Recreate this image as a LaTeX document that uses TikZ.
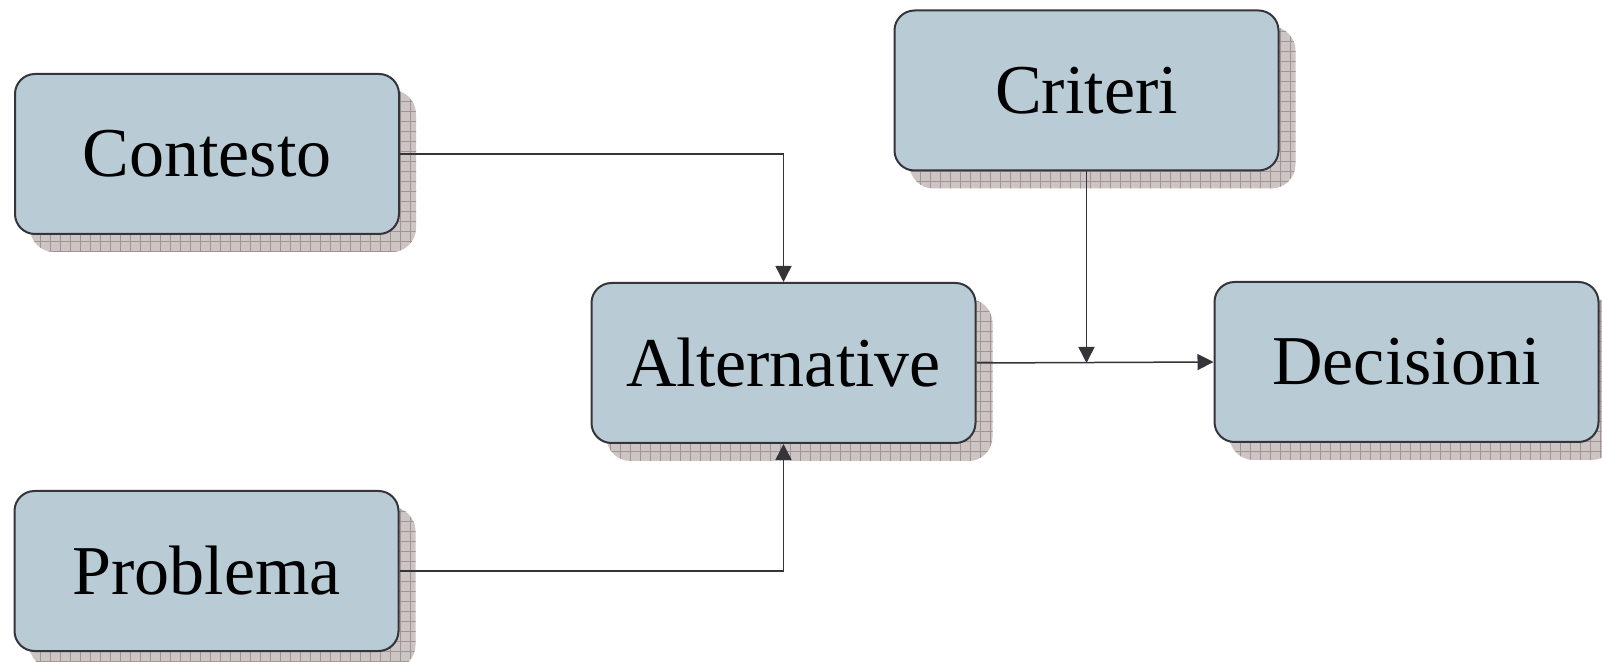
\documentclass[tikz,border=0pt]{standalone}
\usepackage{fontspec}
\setmainfont{Liberation Serif}
\usetikzlibrary{arrows.meta,patterns}
\definecolor{boxfill}{RGB}{185,203,213}
\definecolor{boxline}{RGB}{52,52,58}
\definecolor{shfill}{RGB}{205,196,196}
\definecolor{shgrid}{RGB}{160,148,148}
\pgfdeclarepatternformonly{biggrid}{\pgfqpoint{-1pt}{-1pt}}{\pgfqpoint{6pt}{6pt}}{\pgfqpoint{5pt}{5pt}}{%
  \pgfsetlinewidth{0.5pt}%
  \pgfpathmoveto{\pgfqpoint{0pt}{0pt}}\pgfpathlineto{\pgfqpoint{0pt}{5.1pt}}%
  \pgfpathmoveto{\pgfqpoint{0pt}{0pt}}\pgfpathlineto{\pgfqpoint{5.1pt}{0pt}}%
  \pgfusepath{stroke}}
\pgfdeclarelayer{bg}
\pgfsetlayers{bg,main}
\tikzset{
  stepbox/.style={draw=boxline, line width=1pt, fill=boxfill, rounded corners=10pt,
    minimum width=192pt, minimum height=80pt, inner sep=0pt,
    font=\fontsize{35}{40}\selectfont},
  conn/.style={draw=boxline, line width=0.75pt},
  arr/.style={conn, -{Triangle[length=8pt,width=8pt]}},
}
\begin{document}
\begin{tikzpicture}[x=0.5pt,y=-0.5pt]
\useasboundingbox (0,0) rectangle (1602,662);
\node[stepbox] (c)  at (207,154)    {Contesto};
\node[stepbox] (a)  at (783.5,363)  {Alternative};
\node[stepbox] (cr) at (1086.5,90.5){Criteri};
\node[stepbox] (d)  at (1406.5,362) {Decisioni};
\node[stepbox] (p)  at (206.5,571)  {Problema};
\begin{pgfonlayer}{bg}
\foreach \n in {c,a,cr,d,p}{
  \fill[shfill, rounded corners=12pt] ([shift={(8pt,-8.5pt)}]\n.south west) rectangle ([shift={(8pt,-8.5pt)}]\n.north east);
  \fill[pattern=biggrid, pattern color=shgrid, rounded corners=12pt] ([shift={(8pt,-8.5pt)}]\n.south west) rectangle ([shift={(8pt,-8.5pt)}]\n.north east);
}
\end{pgfonlayer}
\coordinate (j) at (cr.south |- a.east);
\draw[arr] (c.east) -| (a.north);
\draw[arr] (p.east) -| (a.south);
\draw[arr] (cr.south) -- (j);
\draw[arr] (a.east) -- (d.west);
\end{tikzpicture}
\end{document}
